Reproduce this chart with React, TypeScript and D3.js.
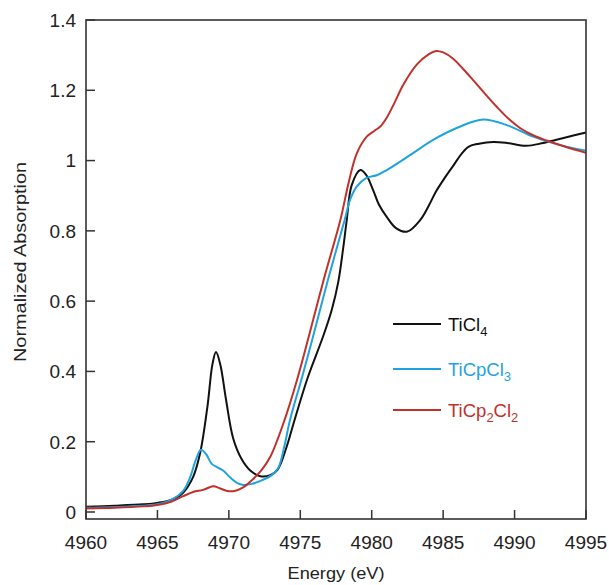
import React from "react";
import * as d3 from "d3";

const xTicks = [4960, 4965, 4970, 4975, 4980, 4985, 4990, 4995];
const yTicks = [0, 0.2, 0.4, 0.6, 0.8, 1, 1.2, 1.4];

const ticl4: [number, number][] = [
  [4960, 0.015], [4962, 0.018], [4964, 0.022], [4965, 0.026], [4966, 0.035], [4966.8, 0.055],
  [4967.5, 0.1], [4968, 0.17], [4968.5, 0.3], [4968.85, 0.42], [4969.1, 0.455], [4969.4, 0.42],
  [4969.8, 0.32], [4970.3, 0.21], [4970.9, 0.15], [4971.5, 0.118], [4972.2, 0.102], [4972.9, 0.105],
  [4973.4, 0.12], [4974, 0.18], [4974.6, 0.262], [4975.5, 0.38], [4976.6, 0.5], [4977.2, 0.575],
  [4977.66, 0.655], [4978, 0.75], [4978.25, 0.83], [4978.6, 0.93], [4979.2, 0.973], [4979.6, 0.96],
  [4980.1, 0.916], [4980.5, 0.875], [4981.05, 0.84], [4981.7, 0.808], [4982.5, 0.798], [4983.4, 0.831],
  [4984, 0.872], [4984.5, 0.912], [4985.1, 0.95], [4985.7, 0.985], [4986.3, 1.02], [4986.8, 1.04],
  [4987.5, 1.048], [4988.5, 1.053], [4989.5, 1.05], [4990.8, 1.042], [4992, 1.05], [4993.5, 1.065],
  [4995, 1.08],
];

const ticpcl3: [number, number][] = [
  [4960, 0.012], [4963, 0.016], [4965, 0.022], [4966, 0.035], [4966.8, 0.06], [4967.3, 0.1],
  [4967.7, 0.15], [4968.05, 0.177], [4968.4, 0.165], [4968.8, 0.137], [4969.2, 0.127], [4969.6, 0.118],
  [4970.1, 0.098], [4970.6, 0.082], [4971, 0.077], [4971.6, 0.08], [4972.3, 0.09], [4973, 0.105],
  [4973.46, 0.125], [4973.9, 0.19], [4974.28, 0.262], [4975.1, 0.38], [4975.9, 0.5], [4977, 0.67],
  [4978.1, 0.83], [4978.5, 0.89], [4978.95, 0.926], [4979.6, 0.95], [4980.4, 0.959], [4981.05, 0.973],
  [4982.7, 1.016], [4984.3, 1.059], [4986.2, 1.097], [4987.8, 1.117], [4989.45, 1.101], [4991.3, 1.068],
  [4993.2, 1.044], [4995, 1.028],
];

const ticp2cl2: [number, number][] = [
  [4960, 0.01], [4962, 0.012], [4964, 0.016], [4965, 0.02], [4966, 0.03], [4966.8, 0.045],
  [4967.5, 0.057], [4968.2, 0.063], [4968.9, 0.073], [4969.4, 0.067], [4969.9, 0.06], [4970.4, 0.06],
  [4971, 0.07], [4971.6, 0.09], [4972.3, 0.12], [4972.9, 0.157], [4973.9, 0.262], [4974.8, 0.38],
  [4975.6, 0.5], [4976.7, 0.67], [4977.8, 0.83], [4978.4, 0.94], [4978.95, 1.02], [4979.65, 1.068],
  [4980.2, 1.085], [4980.6, 1.097], [4981.05, 1.122], [4981.6, 1.165], [4982.2, 1.215], [4983.15, 1.273],
  [4984, 1.303], [4984.5, 1.312], [4985, 1.308], [4985.7, 1.29], [4986.9, 1.238], [4987.8, 1.196],
  [4988.75, 1.153], [4989.6, 1.118], [4990.4, 1.092], [4991.3, 1.072], [4992.25, 1.057], [4993.5, 1.04],
  [4995, 1.022],
];

const seriesNames = ["TiCl4", "TiCpCl3", "TiCp2Cl2"];
const seriesColors = ["#111111", "#1fa3df", "#c1312c"];

export default function App() {
  const W = 609, H = 585;
  const left = 86, right = 586, top = 20, zeroY = 512, bottom = 519;
  const x = d3.scaleLinear().domain([4960, 4995]).range([left, right]);
  const y = d3.scaleLinear().domain([0, 1.4]).range([zeroY, top]);
  const line = d3.line<[number, number]>().x(d => x(d[0])).y(d => y(d[1])).curve(d3.curveCatmullRom.alpha(0.5));
  const data = [ticl4, ticpcl3, ticp2cl2];
  const font = "'Liberation Sans', Arial, Helvetica, sans-serif";
  const legendY = [324, 369, 410];

  return (
    <svg width={W} height={H} style={{ position: "absolute", left: 0, top: 0 }} fontFamily={font}>
      <rect x={0} y={0} width={W} height={H} fill="#fff" />
      {data.map((d, i) => (
        <path key={i} d={line(d) || ""} fill="none" stroke={seriesColors[i]} strokeWidth={2} strokeLinejoin="round" />
      ))}
      <rect x={left} y={top} width={right - left} height={bottom - top} fill="none" stroke="#333" strokeWidth={1.6} />
      {yTicks.map(t => (
        <g key={"y" + t}>
          <line x1={left} x2={left + 9} y1={y(t)} y2={y(t)} stroke="#333" strokeWidth={1.5} />
          <text x={left - 10} y={y(t)} dy="0.36em" textAnchor="end" fontSize={19} fill="#222">{t}</text>
        </g>
      ))}
      {xTicks.map(t => (
        <g key={"x" + t}>
          <line x1={x(t)} x2={x(t)} y1={bottom} y2={bottom - 9} stroke="#333" strokeWidth={1.5} />
          <text x={x(t)} y={549} textAnchor="middle" fontSize={19} fill="#222">{t}</text>
        </g>
      ))}
      <text x={336} y={579} textAnchor="middle" fontSize={16} textLength={97} lengthAdjust="spacingAndGlyphs" fill="#222">Energy (eV)</text>
      <text transform={`translate(26,262) rotate(-90)`} textAnchor="middle" fontSize={16} textLength={200} lengthAdjust="spacingAndGlyphs" fill="#222">Normalized Absorption</text>
      {seriesNames.map((n, i) => (
        <g key={n}>
          <line x1={393} x2={441} y1={legendY[i]} y2={legendY[i]} stroke={seriesColors[i]} strokeWidth={2} />
          <text x={448} y={legendY[i]} dy="0.36em" fontSize={18.5} fill={seriesColors[i]}>
            {i === 0 && (<>TiCl<tspan fontSize={13} dy={5}>4</tspan></>)}
            {i === 1 && (<>TiCpCl<tspan fontSize={13} dy={5}>3</tspan></>)}
            {i === 2 && (<>TiCp<tspan fontSize={13} dy={5}>2</tspan><tspan dy={-5}>Cl</tspan><tspan fontSize={13} dy={5}>2</tspan></>)}
          </text>
        </g>
      ))}
    </svg>
  );
}
